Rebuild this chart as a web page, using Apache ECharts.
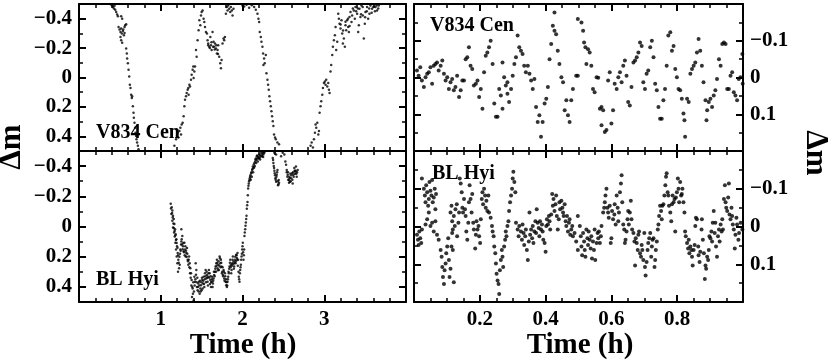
<!DOCTYPE html>
<html>
<head>
<meta charset="utf-8">
<script src="https://cdn.jsdelivr.net/npm/echarts@6/dist/echarts.min.js"></script>
<style>
html, body { margin: 0; padding: 0; background: #fff; }
#chart { width: 830px; height: 362px; }
</style>
</head>
<body>
<div id="chart"></div>
<script>
// tick labels
var fullTimeTicks = [1, 2, 3];
var zoomTimeTicks = [0.2, 0.4, 0.6, 0.8];
var fullMagTicks = [-0.4, -0.2, 0, 0.2, 0.4];
var zoomMagTicks = [-0.1, 0, 0.1];

// V834 Cen, whole run (time h, delta mag)
var v834Full = [
  [0.39,-0.497],[0.41,-0.49],[0.415,-0.479],[0.427,-0.47],[0.435,-0.488],[0.443,-0.461],[0.455,-0.445],
  [0.467,-0.429],[0.476,-0.416],[0.516,-0.416],[0.528,-0.40],[0.484,-0.344],[0.496,-0.326],[0.508,-0.31],
  [0.516,-0.333],[0.524,-0.299],[0.537,-0.317],[0.549,-0.288],[0.557,-0.344],[0.565,-0.355],[0.508,-0.276],
  [0.516,-0.254],[0.528,-0.236],[0.541,-0.326],[0.557,-0.303],[0.577,-0.362],
  [0.577,-0.198],[0.585,-0.164],[0.589,-0.130],[0.598,-0.097],[0.606,-0.052],[0.614,-0.007],[0.622,0.049],
  [0.630,0.072],[0.638,0.117],[0.646,0.139],[0.650,0.128],[0.659,0.196],[0.667,0.240],[0.671,0.274],
  [0.679,0.308],[0.687,0.342],[0.691,0.375],[0.699,0.398],[0.703,0.420],[0.711,0.443],[0.720,0.465],[0.728,0.488],
  [1.167,0.465],[1.187,0.420],[1.199,0.398],[1.207,0.375],[1.215,0.409],[1.228,0.364],[1.240,0.342],
  [1.248,0.387],[1.256,0.319],[1.268,0.308],[1.280,0.263],[1.289,0.196],[1.297,0.151],[1.309,0.128],
  [1.317,0.106],[1.329,0.083],[1.337,0.072],[1.341,0.117],[1.350,0.049],[1.358,0.061],[1.370,0.016],
  [1.378,-0.018],[1.390,-0.052],[1.398,-0.074],[1.402,0.004],[1.411,-0.040],[1.419,-0.074],[1.431,-0.187],
  [1.439,-0.142],[1.451,-0.254],[1.463,-0.321],[1.472,-0.389],[1.484,-0.355],[1.492,-0.422],[1.500,-0.445],
  [1.512,-0.456],[1.524,-0.40],[1.533,-0.378],[1.541,-0.344],[1.553,-0.310],[1.565,-0.299],[1.573,-0.254],
  [1.581,-0.231],[1.593,-0.209],[1.606,-0.276],[1.614,-0.220],[1.622,-0.187],[1.634,-0.310],[1.646,-0.243],
  [1.654,-0.209],[1.663,-0.231],[1.675,-0.198],[1.687,-0.164],[1.695,-0.187],[1.703,-0.220],[1.715,-0.142],
  [1.728,-0.097],[1.736,-0.063],[1.744,-0.119],[1.756,-0.231],[1.768,-0.265],[1.776,-0.254],[1.785,-0.276],
  [1.58,-0.22],[1.60,-0.20],[1.62,-0.24],[1.64,-0.21],[1.66,-0.19],[1.68,-0.22],[1.70,-0.16],
  [1.797,-0.434],[1.809,-0.479],[1.817,-0.456],[1.825,-0.490],[1.837,-0.467],[1.850,-0.445],[1.858,-0.479],
  [1.870,-0.456],[1.878,-0.422],[1.890,-0.467],
  [2.0,-0.49],[2.02,-0.483],[2.049,-0.495],[2.081,-0.474],[2.114,-0.492],[2.142,-0.479],[2.163,-0.461],
  [2.183,-0.434],[2.195,-0.40],[2.203,-0.378],[2.211,-0.31],[2.224,-0.276],[2.232,-0.243],[2.244,-0.209],
  [2.252,-0.164],[2.264,-0.130],[2.272,-0.097],[2.285,-0.153],[2.256,-0.085],[2.293,-0.029],[2.305,0.016],
  [2.313,0.049],[2.321,0.083],[2.329,0.128],[2.337,0.162],[2.346,0.196],[2.354,0.229],[2.362,0.263],
  [2.370,0.297],[2.378,0.330],[2.386,0.387],[2.398,0.409],[2.407,0.420],[2.427,0.443],[2.447,0.454],
  [2.833,0.465],[2.846,0.443],[2.862,0.476],[2.874,0.420],[2.886,0.375],[2.894,0.319],[2.902,0.342],
  [2.915,0.308],[2.927,0.387],[2.935,0.364],[2.943,0.240],[2.955,0.196],[2.963,0.162],[2.976,0.117],
  [2.984,0.072],[2.996,0.038],[3.008,0.027],[3.016,0.049],[3.024,0.016],[3.037,0.061],[3.049,0.038],
  [3.057,0.083],[3.065,0.106],[3.077,-0.040],[3.085,-0.085],[3.098,-0.153],[3.106,-0.209],[3.118,-0.254],
  [3.130,-0.288],[3.138,-0.344],[3.146,-0.187],[3.159,-0.243],[3.171,-0.434],[3.179,-0.40],[3.187,-0.366],
  [3.199,-0.333],[3.211,-0.389],[3.220,-0.299],[3.228,-0.231],[3.240,-0.265],[3.252,-0.209],[3.260,-0.355],
  [3.268,-0.321],[3.280,-0.389],[3.293,-0.344],[3.301,-0.310],[3.309,-0.411],[3.321,-0.445],[3.333,-0.378],
  [3.341,-0.422],[3.362,-0.456],[3.374,-0.40],[3.382,-0.479],[3.402,-0.434],[3.415,-0.310],[3.423,-0.355],
  [3.431,-0.467],[3.443,-0.411],[3.455,-0.490],[3.472,-0.422],[3.484,-0.265],[3.496,-0.366],[3.504,-0.445],
  [3.524,-0.479],[3.537,-0.40],[3.553,-0.434],[3.565,-0.490],[3.585,-0.467],[3.606,-0.497],[3.626,-0.479],
  [3.646,-0.456],[3.667,-0.490],
  [3.35,-0.47],[3.39,-0.45],[3.41,-0.47],[3.45,-0.43],[3.47,-0.48],[3.50,-0.41],[3.52,-0.45],[3.55,-0.47],
  [3.58,-0.44],[3.60,-0.48],[3.62,-0.45],[3.64,-0.49],[3.66,-0.47],[3.20,-0.36],[3.23,-0.32],[3.26,-0.38],
  [3.29,-0.40],[3.31,-0.35]
];

// BL Hyi, whole run
var blHyiFull = [
  [1.122,-0.151],[1.134,-0.128],[1.142,-0.106],[1.130,-0.083],[1.150,-0.072],[1.159,-0.049],[1.142,-0.038],
  [1.167,-0.016],[1.150,0.007],[1.175,0.018],[1.163,0.040],[1.183,0.052],[1.171,0.067],[1.191,0.085],
  [1.179,0.108],[1.199,0.130],[1.187,0.153],[1.207,0.175],[1.195,0.198],[1.215,0.220],[1.203,0.243],
  [1.224,0.276],[1.211,0.299],[1.232,0.254],[1.240,0.153],[1.248,0.119],[1.256,0.085],[1.264,0.063],
  [1.252,0.018],[1.272,0.130],[1.280,0.164],[1.289,0.108],[1.297,0.153],[1.305,0.198],[1.313,0.175],
  [1.321,0.142],[1.329,0.220],[1.337,0.254],[1.346,0.198],[1.354,0.243],[1.362,0.276],[1.370,0.310],
  [1.378,0.355],[1.386,0.400],[1.394,0.445],[1.402,0.490],[1.382,0.467],[1.411,0.333],[1.419,0.366],
  [1.427,0.243],[1.435,0.288],[1.443,0.400],[1.451,0.422],[1.459,0.378],[1.467,0.366],[1.476,0.445],
  [1.484,0.411],[1.492,0.389],[1.500,0.422],[1.508,0.355],[1.516,0.378],[1.524,0.333],[1.533,0.400],
  [1.541,0.310],[1.549,0.288],[1.557,0.344],[1.565,0.321],[1.573,0.366],[1.581,0.333],[1.589,0.288],
  [1.598,0.310],[1.606,0.355],[1.614,0.400],[1.622,0.366],[1.630,0.333],[1.638,0.378],[1.646,0.344],
  [1.654,0.321],[1.663,0.299],[1.671,0.265],[1.679,0.243],[1.687,0.220],[1.695,0.276],[1.703,0.254],
  [1.711,0.288],[1.720,0.198],[1.728,0.243],[1.736,0.220],[1.744,0.265],[1.752,0.299],[1.760,0.321],
  [1.768,0.288],[1.776,0.344],[1.785,0.310],[1.793,0.366],[1.801,0.389],[1.809,0.400],[1.817,0.366],
  [1.825,0.333],[1.833,0.310],[1.841,0.265],[1.850,0.220],[1.858,0.254],[1.866,0.288],[1.874,0.243],
  [1.882,0.198],[1.890,0.231],[1.898,0.265],[1.907,0.220],[1.915,0.243],[1.923,0.187],[1.931,0.209],
  [1.939,0.175],[1.947,0.220],[1.955,0.333],[1.963,0.366],[1.972,0.288],[1.980,0.254],[1.988,0.198],
  [1.996,0.153],[2.004,0.108],[2.012,0.220],[2.020,0.153],[2.024,0.063],[2.033,0.018],[2.041,-0.027],
  [2.049,-0.072],[2.053,-0.117],[2.061,-0.162],[2.065,-0.207],[2.069,-0.252],[2.077,-0.285],[2.085,-0.308],
  [2.093,-0.330],[2.106,-0.353],[2.118,-0.375],[2.126,-0.398],[2.134,-0.387],[2.146,-0.420],[2.159,-0.443],
  [2.167,-0.420],[2.175,-0.465],[2.187,-0.431],[2.199,-0.454],[2.207,-0.476],[2.215,-0.443],[2.228,-0.488],
  [2.240,-0.465],[2.248,-0.49],[2.256,-0.476],[2.268,-0.488],
  [2.370,-0.454],[2.378,-0.420],[2.386,-0.387],[2.394,-0.353],[2.402,-0.319],[2.411,-0.297],[2.419,-0.342],
  [2.427,-0.375],[2.435,-0.274],[2.443,-0.308],[2.390,-0.488],[2.411,-0.476],[2.472,-0.465],[2.492,-0.488],
  [2.512,-0.476],[2.524,-0.431],[2.533,-0.409],[2.541,-0.375],[2.553,-0.342],[2.565,-0.308],[2.573,-0.330],
  [2.581,-0.297],[2.594,-0.319],[2.606,-0.353],[2.614,-0.285],[2.622,-0.342],[2.634,-0.387],[2.646,-0.364],
  [2.654,-0.398],[2.663,-0.330],[2.675,-0.375],
  [1.125,-0.12],[1.138,-0.09],[1.146,-0.06],[1.155,-0.02],[1.160,0.01],[1.170,0.03],[1.178,0.06],
  [1.186,0.09],[1.194,0.11],[1.205,0.14],[1.212,0.19],[1.220,0.24],[1.228,0.20],[1.236,0.18],[1.244,0.16],
  [1.252,0.10],[1.260,0.12],[1.268,0.15],[1.276,0.11],[1.285,0.17],[1.293,0.19],[1.301,0.13],[1.309,0.16],
  [1.317,0.20],[1.325,0.18],[1.333,0.23],[1.342,0.22],[1.350,0.27],[1.358,0.31],[1.366,0.34],[1.374,0.39],
  [1.390,0.41],[1.398,0.37],[1.406,0.43],[1.415,0.39],[1.423,0.35],[1.431,0.32],[1.439,0.37],[1.447,0.34],
  [1.455,0.40],[1.463,0.43],[1.471,0.39],[1.480,0.36],[1.488,0.43],[1.496,0.37],[1.504,0.34],[1.512,0.41],
  [1.520,0.36],[1.528,0.38],[1.537,0.35],[1.545,0.33],[1.553,0.37],[1.561,0.30],[1.569,0.34],[1.577,0.39],
  [1.585,0.31],[1.594,0.34],[1.602,0.38],[1.610,0.33],[1.618,0.37],[1.626,0.35],[1.634,0.40],[1.642,0.36],
  [1.650,0.30],[1.659,0.33],[1.667,0.28],[1.675,0.30],[1.683,0.26],[1.691,0.24],[1.699,0.29],[1.707,0.23],
  [1.716,0.26],[1.724,0.21],[1.732,0.27],[1.740,0.24],[1.748,0.31],[1.756,0.27],[1.764,0.33],[1.772,0.30],
  [1.780,0.36],[1.789,0.33],[1.797,0.35],[1.805,0.37],[1.813,0.39],[1.821,0.35],[1.829,0.30],[1.837,0.28],
  [1.846,0.24],[1.854,0.27],[1.862,0.31],[1.870,0.26],[1.878,0.22],[1.886,0.25],[1.894,0.28],[1.903,0.24],
  [1.911,0.20],[1.919,0.23],[1.927,0.19],[1.935,0.22],[1.943,0.26],[1.951,0.30],[1.959,0.35],[1.968,0.31],
  [1.976,0.27],[1.984,0.22],[1.992,0.18],[2.000,0.13],[2.008,0.17],[2.016,0.19],[2.028,0.04],[2.037,-0.005],
  [2.045,-0.05],[2.057,-0.14],[2.073,-0.27],[2.081,-0.30],[2.089,-0.32],[2.097,-0.34],[2.101,-0.31],
  [2.110,-0.36],[2.114,-0.33],[2.122,-0.38],[2.130,-0.36],[2.138,-0.41],[2.142,-0.39],[2.150,-0.40],
  [2.155,-0.43],[2.163,-0.45],[2.171,-0.44],[2.179,-0.47],[2.183,-0.45],[2.191,-0.46],[2.203,-0.45],
  [2.211,-0.47],[2.219,-0.46],[2.232,-0.47],[2.244,-0.48],[2.252,-0.46],[2.260,-0.49],[2.374,-0.44],
  [2.382,-0.40],[2.390,-0.37],[2.398,-0.34],[2.406,-0.31],[2.415,-0.33],[2.423,-0.36],[2.431,-0.30],
  [2.439,-0.28],[2.447,-0.29],[2.541,-0.36],[2.549,-0.33],[2.557,-0.36],[2.561,-0.31],[2.569,-0.29],
  [2.577,-0.32],[2.585,-0.35],[2.590,-0.30],[2.598,-0.34],[2.610,-0.31],[2.618,-0.36],[2.626,-0.33],
  [2.638,-0.37],[2.642,-0.35],[2.650,-0.37],[2.659,-0.35],[2.667,-0.36]
];

// V834 Cen, first hour
var v834Zoom = [
  [0.009,-0.019],[0.014,-0.005],[0.019,-0.028],[0.024,0.008],[0.030,0.026],[0.035,-0.001],[0.040,-0.010],
  [0.045,-0.014],[0.050,-0.028],[0.055,0.017],[0.060,-0.032],[0.065,-0.037],[0.070,-0.041],[0.075,-0.019],
  [0.081,-0.032],[0.086,-0.046],[0.091,-0.010],[0.096,0.008],[0.101,-0.001],[0.106,0.031],[0.111,0.013],
  [0.116,0.004],[0.121,0.035],[0.126,0.026],[0.131,-0.005],[0.137,0.053],[0.142,0.035],[0.147,0.008],
  [0.152,0.008],[0.157,-0.050],[0.162,-0.055],[0.167,-0.082],[0.172,-0.032],[0.177,-0.023],[0.182,0.022],
  [0.188,0.017],[0.193,0.008],[0.198,0.053],[0.203,0.031],[0.208,0.085],[0.213,-0.014],[0.218,-0.059],
  [0.223,-0.068],[0.228,-0.082],[0.233,-0.100],[0.239,-0.037],[0.244,0.071],[0.249,0.107],[0.254,0.107],
  [0.259,0.031],[0.264,0.049],[0.269,0.085],[0.269,-0.041],[0.274,-0.001],[0.279,0.022],[0.284,0.013],
  [0.284,0.044],[0.289,0.067],[0.295,0.031],[0.300,-0.005],[0.305,-0.037],[0.310,-0.055],[0.315,-0.114],
  [0.320,-0.082],[0.325,-0.073],[0.330,-0.064],[0.335,-0.032],[0.340,-0.014],[0.346,-0.032],[0.351,-0.010],
  [0.356,0.008],[0.361,0.031],[0.366,0.004],[0.371,0.080],[0.376,0.121],[0.381,0.103],[0.386,0.161],
  [0.391,0.121],[0.397,0.071],[0.402,0.058],[0.407,0.026],[0.412,-0.050],[0.417,-0.091],[0.422,-0.141],
  [0.427,-0.177],[0.427,-0.127],[0.432,-0.118],[0.437,-0.073],[0.442,-0.037],[0.448,-0.001],[0.453,0.013],
  [0.458,0.089],[0.463,0.062],[0.468,0.103],[0.473,0.121],[0.478,0.062],[0.483,0.031],[0.493,-0.005],
  [0.498,-0.159],[0.509,-0.150],[0.514,-0.127],[0.517,-0.095],[0.521,-0.082],[0.529,-0.077],[0.534,-0.068],
  [0.524,-0.037],[0.539,-0.032],[0.498,-0.005],[0.544,0.031],[0.549,0.040],[0.555,-0.001],[0.560,0.001],
  [0.565,0.085],[0.570,0.080],[0.575,0.089],[0.570,0.130],[0.580,0.148],[0.585,0.143],[0.590,0.008],
  [0.595,-0.014],[0.600,0.125],[0.605,0.089],[0.610,0.017],[0.616,0.031],[0.621,-0.001],[0.626,-0.014],
  [0.631,0.013],[0.636,-0.032],[0.641,-0.046],[0.646,-0.005],[0.651,0.067],[0.656,0.076],[0.661,0.026],
  [0.667,-0.041],[0.672,-0.046],[0.677,-0.055],[0.682,-0.068],[0.687,-0.095],[0.692,-0.086],[0.697,0.013],
  [0.702,0.031],[0.707,-0.010],[0.712,-0.019],[0.718,-0.082],[0.723,-0.100],[0.728,-0.055],[0.733,0.017],
  [0.738,0.035],[0.743,0.080],[0.748,0.112],[0.753,0.112],[0.758,0.062],[0.763,0.031],[0.768,-0.032],
  [0.773,-0.114],[0.779,-0.123],[0.784,-0.073],[0.789,-0.086],[0.794,-0.023],[0.799,-0.001],[0.804,0.031],
  [0.809,0.035],[0.814,0.058],[0.819,0.098],[0.822,0.116],[0.824,0.161],[0.830,0.058],[0.835,0.067],
  [0.840,-0.010],[0.845,-0.023],[0.850,-0.032],[0.855,-0.041],[0.860,-0.068],[0.865,-0.105],[0.870,-0.073],
  [0.875,-0.032],[0.880,0.013],[0.886,0.062],[0.889,0.116],[0.891,0.089],[0.896,0.067],[0.901,0.058],
  [0.906,0.080],[0.911,0.049],[0.916,0.035],[0.921,0.004],[0.927,-0.050],[0.932,-0.032],[0.937,-0.091],
  [0.942,-0.095],[0.947,-0.091],[0.952,0.031],[0.957,0.031],[0.962,-0.005],[0.967,-0.014],[0.972,0.040],
  [0.977,0.049],[0.982,0.062],[0.987,0.004],[0.992,-0.001],[0.998,-0.064],[0.999,0.017]
];

// BL Hyi, first hour
var blHyiZoom = [
  [0.009,0.022],[0.012,0.035],[0.014,0.049],[0.016,0.013],[0.019,0.031],[0.022,0.044],[0.024,0.008],
  [0.024,-0.127],[0.030,-0.100],[0.033,-0.082],[0.035,-0.064],[0.037,-0.109],[0.040,-0.091],[0.043,-0.055],
  [0.045,-0.073],[0.047,-0.118],[0.050,-0.095],[0.053,-0.082],[0.055,-0.123],[0.057,-0.064],[0.060,-0.077],
  [0.063,-0.100],[0.065,-0.046],[0.067,-0.086],[0.040,-0.019],[0.045,-0.037],[0.050,-0.001],[0.055,-0.010],
  [0.035,-0.005],[0.060,0.013],[0.065,-0.014],[0.070,0.022],[0.075,0.035],[0.081,0.062],[0.084,0.080],
  [0.086,0.107],[0.088,0.134],[0.091,0.152],[0.093,0.116],[0.096,0.098],[0.098,0.071],[0.101,0.053],
  [0.104,0.031],[0.106,0.089],[0.108,0.134],[0.111,0.112],[0.114,0.053],[0.116,0.017],[0.118,0.062],
  [0.121,0.148],[0.111,-0.037],[0.114,-0.055],[0.116,-0.014],[0.118,0.008],[0.121,-0.028],[0.124,-0.001],
  [0.126,-0.046],[0.130,-0.059],[0.131,0.026],[0.135,-0.010],[0.137,-0.037],[0.139,-0.127],[0.142,-0.114],
  [0.145,-0.091],[0.147,-0.050],[0.149,-0.037],[0.152,-0.073],[0.155,-0.046],[0.157,-0.028],[0.159,0.013],
  [0.162,0.035],[0.165,-0.010],[0.167,-0.064],[0.169,-0.109],[0.172,-0.073],[0.175,-0.037],[0.177,-0.086],
  [0.180,-0.010],[0.182,0.008],[0.186,0.058],[0.188,0.022],[0.190,-0.014],[0.193,0.008],[0.196,-0.001],
  [0.198,0.026],[0.201,0.044],[0.203,-0.019],[0.206,-0.073],[0.208,-0.091],[0.210,-0.059],[0.213,-0.100],
  [0.216,-0.082],[0.218,-0.050],[0.220,-0.068],[0.223,-0.041],[0.226,-0.082],[0.228,-0.037],[0.233,-0.023],
  [0.237,-0.001],[0.239,0.013],[0.242,0.026],[0.244,0.053],[0.247,0.071],[0.249,0.098],[0.251,0.125],
  [0.254,0.143],[0.257,0.152],[0.259,0.179],[0.261,0.116],[0.264,0.089],[0.267,0.062],[0.269,0.080],
  [0.271,0.107],[0.274,0.053],[0.277,0.035],[0.279,0.013],[0.281,0.026],[0.284,-0.001],[0.287,-0.014],
  [0.289,-0.041],[0.292,-0.064],[0.295,-0.082],[0.298,-0.100],[0.300,-0.127],[0.302,-0.145],[0.305,-0.118],
  [0.308,-0.091],[0.310,-0.010],[0.315,0.008],[0.318,0.026],[0.320,-0.001],[0.325,0.013],[0.328,0.035],
  [0.330,-0.005],[0.333,0.017],[0.335,0.049],[0.338,0.026],[0.340,0.008],[0.343,0.062],[0.346,0.089],
  [0.349,0.040],[0.351,-0.037],[0.353,0.022],[0.356,0.008],[0.359,0.031],[0.361,-0.001],[0.363,0.044],
  [0.366,0.013],[0.369,-0.014],[0.371,0.017],[0.373,-0.046],[0.376,-0.010],[0.379,0.004],[0.381,0.026],
  [0.383,-0.014],[0.386,0.008],[0.389,-0.005],[0.391,0.013],[0.393,0.035],[0.397,0.044],[0.400,0.067],
  [0.402,-0.001],[0.404,-0.019],[0.407,-0.005],[0.410,-0.028],[0.412,-0.014],[0.414,0.008],[0.417,-0.032],
  [0.420,-0.086],[0.422,-0.055],[0.424,-0.073],[0.427,-0.041],[0.430,-0.059],[0.432,-0.082],[0.434,-0.028],
  [0.437,0.008],[0.440,-0.019],[0.442,-0.064],[0.444,-0.046],[0.448,-0.068],[0.451,-0.050],[0.453,-0.037],
  [0.455,-0.028],[0.458,-0.059],[0.461,-0.014],[0.463,-0.001],[0.465,-0.028],[0.468,0.013],[0.471,-0.010],
  [0.473,-0.019],[0.475,0.022],[0.478,0.008],[0.481,-0.001],[0.483,0.026],[0.488,0.017],[0.493,0.040],
  [0.498,0.062],
  [0.498,-0.028],[0.504,-0.001],[0.507,0.026],[0.509,0.053],[0.511,0.076],[0.514,0.017],[0.517,0.040],
  [0.519,0.062],[0.521,0.080],[0.524,0.008],[0.527,0.031],[0.529,0.049],[0.531,0.013],[0.534,0.035],
  [0.537,0.058],[0.539,0.026],[0.541,0.085],[0.544,0.040],[0.547,0.062],[0.549,0.008],[0.551,0.089],
  [0.555,0.044],[0.558,0.017],[0.560,0.031],[0.562,0.013],[0.565,0.044],[0.568,0.026],[0.570,-0.001],
  [0.575,-0.037],[0.578,-0.050],[0.580,-0.064],[0.582,-0.082],[0.585,-0.100],[0.588,-0.050],[0.590,-0.037],
  [0.592,-0.023],[0.595,-0.055],[0.598,0.044],[0.600,0.031],[0.602,-0.041],[0.605,-0.019],[0.609,-0.032],
  [0.610,-0.059],[0.613,-0.005],[0.616,-0.082],[0.619,-0.050],[0.621,-0.014],[0.623,-0.037],[0.626,-0.091],
  [0.629,-0.114],[0.631,-0.136],[0.633,-0.064],[0.636,-0.005],[0.639,0.008],[0.641,0.044],[0.643,0.035],
  [0.646,0.013],[0.649,-0.019],[0.651,-0.041],[0.653,-0.005],[0.656,-0.037],[0.659,-0.068],[0.661,-0.019],
  [0.663,0.008],[0.667,0.017],[0.670,0.040],[0.672,0.103],[0.674,0.031],[0.677,0.044],[0.680,0.062],
  [0.682,0.022],[0.684,0.013],[0.687,0.071],[0.690,0.080],[0.692,0.049],[0.694,0.062],[0.697,0.089],
  [0.700,0.017],[0.702,0.107],[0.704,0.130],[0.707,0.094],[0.710,0.062],[0.712,0.044],[0.715,0.031],
  [0.718,0.017],[0.721,0.080],[0.723,0.053],[0.725,0.035],[0.728,0.031],[0.731,0.107],[0.733,0.089],
  [0.735,0.062],[0.738,0.040],[0.741,0.008],[0.743,-0.005],[0.745,-0.028],[0.748,-0.055],[0.751,-0.041],
  [0.753,-0.019],[0.755,-0.055],[0.758,-0.059],[0.761,-0.082],[0.764,-0.109],[0.766,-0.132],[0.768,-0.141],
  [0.771,-0.091],[0.773,-0.082],[0.775,-0.055],[0.779,-0.037],[0.782,-0.014],[0.784,-0.059],[0.786,-0.082],
  [0.789,-0.064],[0.792,-0.073],[0.794,0.013],[0.796,-0.077],[0.799,-0.091],[0.802,-0.127],[0.804,-0.100],
  [0.806,-0.064],[0.809,-0.118],[0.812,-0.082],[0.814,-0.086],[0.816,-0.100],[0.819,-0.064],[0.822,-0.037],
  [0.824,0.013],[0.826,0.026],[0.830,0.044],[0.833,0.058],[0.835,0.035],[0.837,0.071],[0.840,0.053],
  [0.843,0.062],[0.845,0.080],[0.847,0.103],[0.850,0.062],[0.853,0.049],[0.855,-0.001],[0.857,-0.023],
  [0.860,-0.019],[0.864,0.053],[0.865,0.076],[0.868,0.094],[0.870,0.067],[0.874,0.008],[0.875,-0.019],
  [0.878,0.035],[0.881,0.071],[0.884,0.139],[0.886,0.103],[0.888,0.112],[0.891,0.080],[0.894,0.089],
  [0.896,0.062],[0.898,0.026],[0.901,0.031],[0.904,0.013],[0.906,0.040],[0.908,-0.010],[0.911,-0.041],
  [0.914,0.017],[0.916,-0.010],[0.918,0.053],[0.921,0.080],[0.924,0.026],[0.927,0.008],[0.929,0.040],
  [0.932,-0.005],[0.935,0.013],[0.937,-0.019],[0.939,0.008],[0.942,-0.073],[0.945,-0.109],[0.947,-0.064],
  [0.949,-0.050],[0.952,-0.041],[0.955,-0.077],[0.957,-0.114],[0.959,-0.032],[0.962,-0.019],[0.965,-0.050],
  [0.967,-0.028],[0.969,-0.005],[0.972,0.008],[0.975,0.058],[0.977,0.022],[0.980,-0.023],[0.982,-0.005],
  [0.986,0.035],[0.988,0.017],[0.993,-0.010],[0.998,0.008]
];

var FONT = 'Liberation Serif';
var chart = echarts.init(document.getElementById('chart'));

var grids = [
  {left: 79, top: 4, width: 327, height: 147},
  {left: 79, top: 151, width: 327, height: 151},
  {left: 414, top: 4, width: 329, height: 147},
  {left: 414, top: 151, width: 329, height: 151}
];

var xAxes = [], yAxes = [];
var lineStyle = {color: '#000', width: 2};

// major axis: line, long ticks and labels on fixed values
function major(list, grid, pos, min, max, ticks, labels, inverse) {
  list.push({
    type: 'value', gridIndex: grid, position: pos, min: min, max: max, inverse: !!inverse,
    axisLine: {show: true, onZero: false, lineStyle: lineStyle},
    axisTick: {show: true, inside: true, length: 7, lineStyle: {color: '#000', width: 2}, customValues: ticks},
    axisLabel: {
      show: labels, margin: 7, customValues: ticks,
      color: '#000', fontFamily: FONT, fontWeight: 'bold', fontSize: 21,
      formatter: function(v) { return String(v).replace('-', '\u2212'); }
    },
    splitLine: {show: false}
  });
  return list.length - 1;
}
// minor ticks only
function minor(list, grid, pos, min, max, step, inverse) {
  list.push({
    type: 'value', gridIndex: grid, position: pos, min: min, max: max, interval: step, inverse: !!inverse,
    axisLine: {show: false, onZero: false},
    axisTick: {show: true, inside: true, length: 4, lineStyle: {color: '#000', width: 1.5}},
    axisLabel: {show: false},
    splitLine: {show: false}
  });
}

var series = [];
function panel(g, xmin, xmax, xTicks, xStep, ymin, ymax, yTicks, yStep, xLabels, yLabelSide, data, size) {
  var xi = major(xAxes, g, 'bottom', xmin, xmax, xTicks, xLabels);
  major(xAxes, g, 'top', xmin, xmax, xTicks, false);
  minor(xAxes, g, 'bottom', xmin, xmax, xStep);
  minor(xAxes, g, 'top', xmin, xmax, xStep);
  var yi = major(yAxes, g, 'left', ymin, ymax, yTicks, yLabelSide === 'left', true);
  major(yAxes, g, 'right', ymin, ymax, yTicks, yLabelSide === 'right', true);
  minor(yAxes, g, 'left', ymin, ymax, yStep, true);
  minor(yAxes, g, 'right', ymin, ymax, yStep, true);
  series.push({
    type: 'scatter', xAxisIndex: xi, yAxisIndex: yi, data: data,
    symbol: 'circle', symbolSize: size, itemStyle: {color: '#000'}, silent: true
  });
}

panel(0, 0, 4, fullTimeTicks, 0.2, -0.5, 0.5, fullMagTicks, 0.1, false, 'left', v834Full, 2.5);
panel(1, 0, 4, fullTimeTicks, 0.2, -0.5, 0.5, fullMagTicks, 0.1, true, 'left', blHyiFull, 2.5);
panel(2, 0, 1, zoomTimeTicks, 0.05, -0.2, 0.2, zoomMagTicks, 0.05, false, 'right', v834Zoom, 4);
panel(3, 0, 1, zoomTimeTicks, 0.05, -0.2, 0.2, zoomMagTicks, 0.05, true, 'right', blHyiZoom, 4);

function txt(x, y, s, size, rot, align) {
  return {
    type: 'text', x: x, y: y, rotation: rot || 0, silent: true,
    style: {text: s, fill: '#000', font: 'bold ' + size + 'px "' + FONT + '"',
      textAlign: align || 'left', textVerticalAlign: 'middle'}
  };
}

chart.setOption({
  animation: false,
  backgroundColor: '#fff',
  grid: grids,
  xAxis: xAxes,
  yAxis: yAxes,
  series: series,
  graphic: [
    txt(96, 133, 'V834 Cen', 20),
    txt(96, 280, 'BL Hyi', 20),
    txt(430, 26, 'V834 Cen', 20),
    txt(432, 174, 'BL Hyi', 20),
    txt(243, 346, 'Time (h)', 29, 0, 'center'),
    txt(580, 346, 'Time (h)', 29, 0, 'center'),
    txt(12, 147, '\u0394m', 31, Math.PI / 2, 'center'),
    txt(815, 153, '\u0394m', 31, -Math.PI / 2, 'center')
  ]
});
</script>
</body>
</html>
